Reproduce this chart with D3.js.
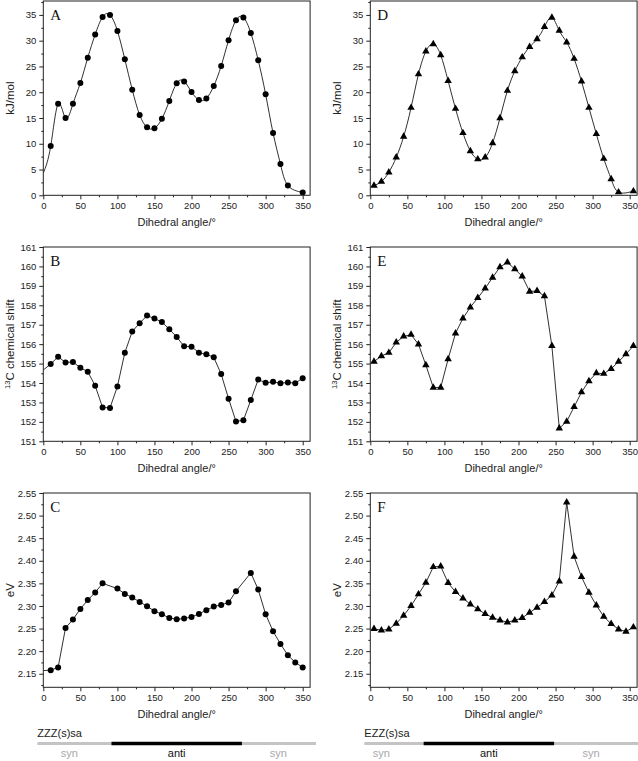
<!DOCTYPE html>
<html><head><meta charset="utf-8">
<script src="https://cdn.jsdelivr.net/npm/d3@7"></script>
<style>body{margin:0;background:#fff} svg{display:block;font-family:"Liberation Sans",Arial,sans-serif}</style>
</head><body><svg id="c" width="638" height="761"></svg>
<script>
// ---------- data ----------
const xTicks = [0,50,100,150,200,250,300,350];
const xMinor = [25,75,125,175,225,275,325];

// ZZZ(s)sa (circles)
const anglesA = [0,10,20,30,40,50,60,70,80,90,100,110,120,130,140,150,160,170,180,190,200,210,220,230,240,250,260,270,280,290,300,310,320,330,350];
const energyA = [4.3,9.55,17.75,15.0,17.75,21.8,26.7,31.2,34.6,35.0,31.9,26.4,20.5,15.6,13.2,13.0,14.85,18.3,21.75,22.1,20.05,18.5,18.8,21.2,25.1,30.1,33.95,34.5,31.5,26.2,19.6,12.1,6.05,1.9,0.55];

const anglesB = [0,10,20,30,40,50,60,70,80,90,100,110,120,130,140,150,160,170,180,190,200,210,220,230,240,250,260,270,280,290,300,310,320,330,340,350];
const shiftB = [154.67,154.98,155.35,155.06,155.08,154.79,154.58,153.86,152.74,152.72,153.82,155.56,156.65,157.08,157.47,157.32,157.14,156.77,156.37,155.89,155.87,155.56,155.48,155.32,154.46,153.19,152.02,152.08,153.12,154.18,154.01,154.06,153.99,154.03,153.99,154.25];

const anglesC = [0,10,20,30,40,50,60,70,80,100,110,120,130,140,150,160,170,180,190,200,210,220,230,240,250,260,280,290,300,310,320,330,340,350];
const gapC = [2.157,2.158,2.164,2.2515,2.270,2.2935,2.313,2.330,2.350,2.3385,2.3267,2.319,2.309,2.2994,2.2884,2.2817,2.2736,2.2707,2.2721,2.2758,2.2824,2.2906,2.2987,2.3024,2.3075,2.3326,2.3732,2.3363,2.2817,2.2441,2.216,2.191,2.175,2.164];

// EZZ(s)sa (triangles)
const anglesD = [5,15,25,35,45,55,65,75,85,95,105,115,125,135,145,155,165,175,185,195,205,215,225,235,245,255,265,275,285,295,305,315,325,335,355];
const energyD = [1.9,2.65,4.45,7.35,11.4,17.0,23.5,27.95,29.35,27.2,22.2,16.8,12.1,8.6,7.0,7.35,10.15,15.0,20.3,24.1,26.8,28.8,30.3,32.7,34.5,31.95,29.7,26.5,22.1,17.0,11.9,7.1,3.15,0.6,0.8];

const anglesE = [5,15,25,35,45,55,65,75,85,95,105,115,125,135,145,155,165,175,185,195,205,215,225,235,245,255,265,275,285,295,305,315,325,335,345,355];
const shiftE = [155.1,155.39,155.56,156.09,156.40,156.49,155.99,154.92,153.77,153.77,155.23,156.56,157.33,157.90,158.38,158.87,159.43,159.97,160.21,159.86,159.49,158.71,158.74,158.47,155.91,151.67,152.02,152.77,153.53,154.10,154.51,154.48,154.73,155.10,155.49,155.91];

const anglesF = [5,15,25,35,45,55,65,75,85,95,105,115,125,135,145,155,165,175,185,195,205,215,225,235,245,255,265,275,285,295,305,315,325,335,345,355];
const gapF = [2.2493,2.2463,2.2485,2.2611,2.2788,2.3001,2.326,2.3518,2.3864,2.3879,2.351,2.3311,2.3171,2.3038,2.2928,2.2824,2.2743,2.2684,2.264,2.2684,2.2736,2.2854,2.2965,2.309,2.3237,2.3547,2.5295,2.4093,2.3643,2.3296,2.3016,2.2765,2.2603,2.2485,2.2434,2.253];

const energyTicks = [0,5,10,15,20,25,30,35];
const energyMinor = [2.5,7.5,12.5,17.5,22.5,27.5,32.5,37.5];
const shiftTicks = [151,152,153,154,155,156,157,158,159,160,161];
const shiftMinor = [151.5,152.5,153.5,154.5,155.5,156.5,157.5,158.5,159.5,160.5];
const gapTicks = [2.15,2.20,2.25,2.30,2.35,2.40,2.45,2.50,2.55];
const gapMinor = [2.125,2.175,2.225,2.275,2.325,2.375,2.425,2.475,2.525];

const conformers = ["ZZZ(s)sa","EZZ(s)sa"];
const antiRanges = [[92,268],[72,248]];
const synLabelPos = [[35,317],[15,298]];
const antiLabelPos = [180,160];

// ---------- layout ----------
const svg = d3.select("#c");
const colX = [43.3, 370.3];
const plotW = 266.8, plotH = 194.3;
const rowY = [1, 247, 493];

const panels = [
  {col:0,row:0,letter:"A",xs:anglesA,ys:energyA,dom:[0,37.7],ticks:energyTicks,minor:energyMinor,fmt:d3.format("d"),title:"kJ/mol",sym:"circle",curve:d3.curveNatural},
  {col:0,row:1,letter:"B",xs:anglesB,ys:shiftB,dom:[151,161],ticks:shiftTicks,minor:shiftMinor,fmt:d3.format("d"),title:"shift",sym:"circle",curve:d3.curveLinear},
  {col:0,row:2,letter:"C",xs:anglesC,ys:gapC,dom:[2.12,2.55],ticks:gapTicks,minor:gapMinor,fmt:d3.format(".2f"),title:"eV",sym:"circle",curve:d3.curveLinear},
  {col:1,row:0,letter:"D",xs:anglesD,ys:energyD,dom:[0,37.7],ticks:energyTicks,minor:energyMinor,fmt:d3.format("d"),title:"kJ/mol",sym:"tri",curve:d3.curveNatural},
  {col:1,row:1,letter:"E",xs:anglesE,ys:shiftE,dom:[151,161],ticks:shiftTicks,minor:shiftMinor,fmt:d3.format("d"),title:"shift",sym:"tri",curve:d3.curveLinear},
  {col:1,row:2,letter:"F",xs:anglesF,ys:gapF,dom:[2.12,2.55],ticks:gapTicks,minor:gapMinor,fmt:d3.format(".2f"),title:"eV",sym:"tri",curve:d3.curveLinear}
];

const xScales = [];
panels.forEach((p,i) => {
  const x0 = colX[p.col], y0 = rowY[p.row];
  const x = d3.scaleLinear().domain([0,360]).range([x0, x0+plotW]);
  const y = d3.scaleLinear().domain(p.dom).range([y0+plotH, y0]);
  if (p.row === 2) xScales[p.col] = x;
  const g = svg.append("g");
  const clipId = "clip"+i;
  svg.append("clipPath").attr("id",clipId).append("rect")
    .attr("x",x0).attr("y",y0).attr("width",plotW).attr("height",plotH);

  const pts = p.xs.map((a,k)=>({a, v:p.ys[k]}));
  const line = d3.line().x(d=>x(d.a)).y(d=>y(d.v)).curve(p.curve);
  g.append("path").datum(pts).attr("clip-path",`url(#${clipId})`)
    .attr("d",line).attr("fill","none").attr("stroke","#1a1a1a").attr("stroke-width",0.9);

  const mk = g.append("g").attr("clip-path",`url(#${clipId})`);
  const shown = pts.filter(d=>d.a>0);
  if (p.sym === "circle") {
    mk.selectAll("circle").data(shown).join("circle")
      .attr("cx",d=>x(d.a)).attr("cy",d=>y(d.v)).attr("r",3).attr("fill","#000");
  } else {
    mk.selectAll("path").data(shown).join("path")
      .attr("transform",d=>`translate(${x(d.a)},${y(d.v)})`)
      .attr("d",d3.symbol(d3.symbolTriangle,24)()).attr("fill","#000");
  }

  // frame
  g.append("rect").attr("x",x0).attr("y",y0).attr("width",plotW).attr("height",plotH)
    .attr("fill","none").attr("stroke","#222").attr("stroke-width",1);

  // axes
  const xa = g.append("g").attr("transform",`translate(0,${y0+plotH})`)
    .call(d3.axisBottom(x).tickValues(xTicks).tickSize(4).tickPadding(3));
  const xm = g.append("g").attr("transform",`translate(0,${y0+plotH})`)
    .call(d3.axisBottom(x).tickValues(xMinor).tickSize(2).tickFormat(""));
  const ya = g.append("g").attr("transform",`translate(${x0},0)`)
    .call(d3.axisLeft(y).tickValues(p.ticks).tickSize(4).tickPadding(3).tickFormat(p.fmt));
  const ym = g.append("g").attr("transform",`translate(${x0},0)`)
    .call(d3.axisLeft(y).tickValues(p.minor).tickSize(2).tickFormat(""));
  [xa,xm,ya,ym].forEach(a=>{
    a.select(".domain").remove();
    a.selectAll("line").attr("stroke","#222");
    a.selectAll("text").attr("font-size",9.5).attr("fill","#222")
      .attr("font-family",'"Liberation Sans",Arial,sans-serif');
  });

  // x title
  g.append("text").attr("x",x0+plotW/2).attr("y",y0+plotH+31)
    .attr("text-anchor","middle").attr("font-size",11).attr("fill","#222")
    .text("Dihedral angle/°");

  // y title
  const tx = x0 - 29, ty = y0 + plotH/2;
  const yt = g.append("text").attr("transform",`translate(${tx},${ty}) rotate(-90)`)
    .attr("text-anchor","middle").attr("font-size",11.5).attr("fill","#222");
  if (p.title === "shift") {
    yt.append("tspan").attr("font-size",7.5).attr("dy",-4).text("13");
    yt.append("tspan").attr("dy",4).text("C chemical shift");
  } else {
    yt.text(p.title);
  }

  // panel letter
  g.append("text").attr("x",x0+7).attr("y",y0+19)
    .attr("font-family",'"Liberation Serif","Times New Roman",serif')
    .attr("font-size",15).attr("fill","#111").text(p.letter);
});

// ---------- syn / anti bars ----------
conformers.forEach((name,c)=>{
  const x = xScales[c];
  const by = 743.5;
  const g = svg.append("g");
  g.append("text").attr("x",x(-8)).attr("y",737).attr("font-size",11).attr("fill","#222").text(name);
  g.append("line").attr("x1",x(-8)).attr("x2",x(368)).attr("y1",by).attr("y2",by)
    .attr("stroke","#c4c4c4").attr("stroke-width",3);
  g.append("line").attr("x1",x(antiRanges[c][0])).attr("x2",x(antiRanges[c][1])).attr("y1",by).attr("y2",by)
    .attr("stroke","#000").attr("stroke-width",3.5);
  synLabelPos[c].forEach(a=>{
    g.append("text").attr("x",x(a)).attr("y",757).attr("text-anchor","middle")
      .attr("font-size",11).attr("fill","#a8a8a8").text("syn");
  });
  g.append("text").attr("x",x(antiLabelPos[c])).attr("y",757).attr("text-anchor","middle")
    .attr("font-size",11).attr("fill","#111").text("anti");
});
</script>
</body></html>
